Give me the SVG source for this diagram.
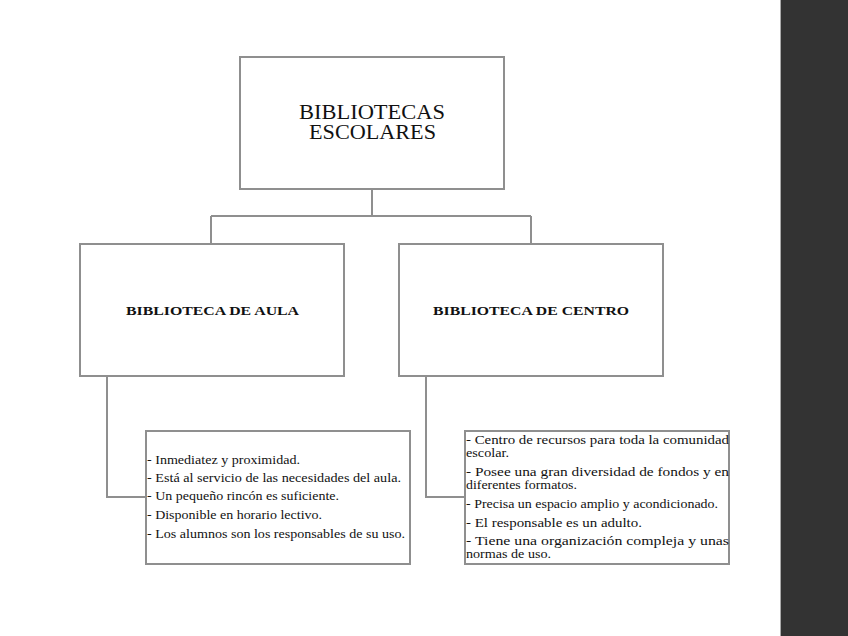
<svg xmlns="http://www.w3.org/2000/svg" width="848" height="636" viewBox="0 0 848 636">
<style>
.box{fill:#fff;stroke:#8f8f8f;stroke-width:2}
.con{fill:none;stroke:#8f8f8f;stroke-width:2}
.t{font-family:"Liberation Serif","Times New Roman",serif;fill:#111}
.h1{font-size:20px}
.h2{font-size:13.5px;font-weight:bold}
.li{font-size:12px}
</style>
<rect x="0" y="0" width="848" height="636" fill="#fff"/>
<rect x="780" y="0" width="68" height="636" fill="#333333"/>
<line x1="780.5" y1="0" x2="780.5" y2="636" stroke="#aaaaaa" stroke-width="1"/>
<g id="connectors">
<path class="con" d="M372 189 V216 M211 216 H531 M211 216 V244 M531 216 V244"/>
<path class="con" d="M107 376 V497 H146"/>
<path class="con" d="M426 376 V497 H465"/>
</g>
<g id="root">
<rect class="box" x="240" y="57" width="264" height="132"/>
<text class="t h1" x="299" y="119" textLength="146" lengthAdjust="spacingAndGlyphs">BIBLIOTECAS</text>
<text class="t h1" x="309" y="139" textLength="127" lengthAdjust="spacingAndGlyphs">ESCOLARES</text>
</g>
<g id="aula">
<rect class="box" x="80" y="244" width="264" height="132"/>
<text class="t h2" x="126" y="315" textLength="173" lengthAdjust="spacingAndGlyphs">BIBLIOTECA DE AULA</text>
</g>
<g id="centro">
<rect class="box" x="399" y="244" width="264" height="132"/>
<text class="t h2" x="433" y="315" textLength="196" lengthAdjust="spacingAndGlyphs">BIBLIOTECA DE CENTRO</text>
</g>
<g id="aula-list">
<rect class="box" x="146" y="431" width="264" height="133"/>
<text class="t li" x="147" y="464" textLength="153" lengthAdjust="spacingAndGlyphs">- Inmediatez y proximidad.</text>
<text class="t li" x="147" y="482" textLength="254" lengthAdjust="spacingAndGlyphs">- Está al servicio de las necesidades del aula.</text>
<text class="t li" x="147" y="500" textLength="192" lengthAdjust="spacingAndGlyphs">- Un pequeño rincón es suficiente.</text>
<text class="t li" x="147" y="519" textLength="175" lengthAdjust="spacingAndGlyphs">- Disponible en horario lectivo.</text>
<text class="t li" x="147" y="538" textLength="258" lengthAdjust="spacingAndGlyphs">- Los alumnos son los responsables de su uso.</text>
</g>
<g id="centro-list">
<rect class="box" x="465" y="431" width="264" height="133"/>
<text class="t li" x="466" y="444" textLength="263" lengthAdjust="spacingAndGlyphs">- Centro de recursos para toda la comunidad</text>
<text class="t li" x="466" y="457" textLength="43" lengthAdjust="spacingAndGlyphs">escolar.</text>
<text class="t li" x="466" y="476" textLength="263" lengthAdjust="spacingAndGlyphs">- Posee una gran diversidad de fondos y en</text>
<text class="t li" x="466" y="489" textLength="111" lengthAdjust="spacingAndGlyphs">diferentes formatos.</text>
<text class="t li" x="466" y="508" textLength="252" lengthAdjust="spacingAndGlyphs">- Precisa un espacio amplio y acondicionado.</text>
<text class="t li" x="466" y="527" textLength="176" lengthAdjust="spacingAndGlyphs">- El responsable es un adulto.</text>
<text class="t li" x="466" y="545" textLength="263" lengthAdjust="spacingAndGlyphs">- Tiene una organización compleja y unas</text>
<text class="t li" x="466" y="558" textLength="85" lengthAdjust="spacingAndGlyphs">normas de uso.</text>
</g>
</svg>
